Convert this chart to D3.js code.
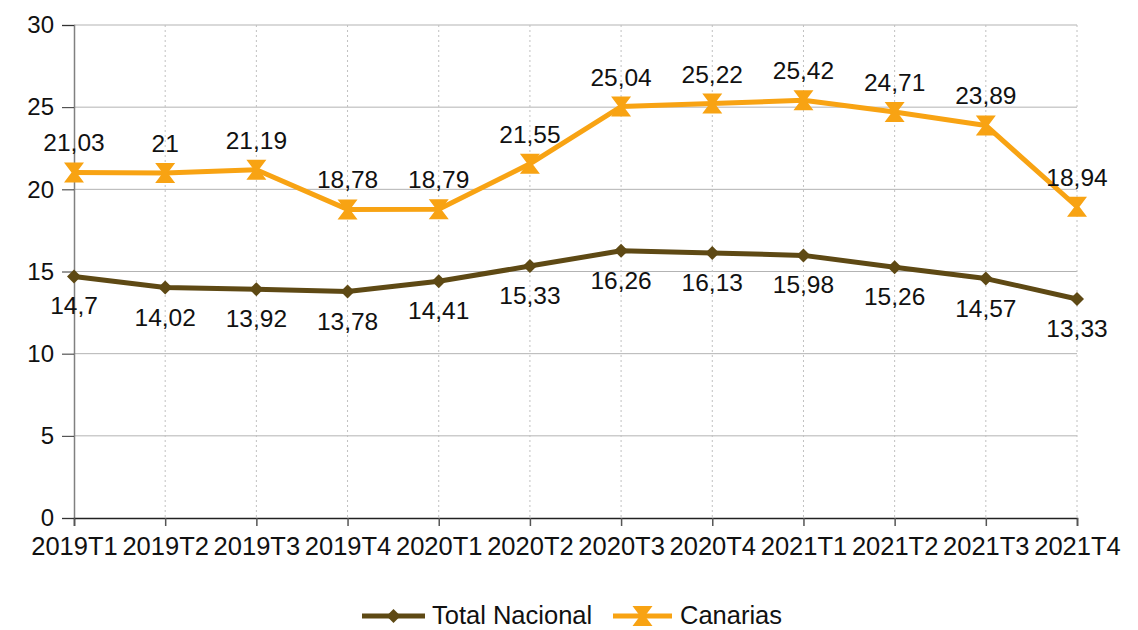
<!DOCTYPE html>
<html>
<head>
<meta charset="utf-8">
<script src="https://cdn.jsdelivr.net/npm/d3@7"></script>
<style>
  body { margin: 0; background: #fff; }
  svg { display: block; font-family: 'Liberation Sans', Arial, sans-serif; }
</style>
</head>
<body>
<figure style="margin:0"></figure>
<script>
const width = 1138
const height = 630
const margin = { left: 74, right: 61, top: 25, bottom: 112 }

const categories = ['2019T1', '2019T2', '2019T3', '2019T4', '2020T1', '2020T2',
  '2020T3', '2020T4', '2021T1', '2021T2', '2021T3', '2021T4']
const totalNacional = [14.7, 14.02, 13.92, 13.78, 14.41, 15.33, 16.26, 16.13, 15.98, 15.26, 14.57, 13.33]
const canarias = [21.03, 21, 21.19, 18.78, 18.79, 21.55, 25.04, 25.22, 25.42, 24.71, 23.89, 18.94]
const yTicks = [0, 5, 10, 15, 20, 25, 30]

const series = [
  { name: 'Total Nacional', values: totalNacional, color: '#5e4914', marker: 'diamond', labelPos: 'below' },
  { name: 'Canarias', values: canarias, color: '#f8a313', marker: 'hourglass', labelPos: 'above' }
]

const fmt = v => String(v).replace('.', ',')

const x = d3.scalePoint()
  .domain(categories)
  .range([margin.left, width - margin.right])

const y = d3.scaleLinear()
  .domain([0, 30])
  .range([height - margin.bottom, margin.top])

const svg = d3.select('figure').append('svg')
  .attr('width', width)
  .attr('height', height)

// horizontal grid
svg.append('g')
  .selectAll('line')
  .data(yTicks.filter(d => d > 0))
  .join('line')
  .attr('x1', margin.left)
  .attr('x2', width - margin.right)
  .attr('y1', d => y(d))
  .attr('y2', d => y(d))
  .attr('stroke', '#b3b3b3')
  .attr('stroke-width', 1)

// vertical dotted grid
svg.append('g')
  .selectAll('line')
  .data(categories.slice(1))
  .join('line')
  .attr('x1', d => x(d))
  .attr('x2', d => x(d))
  .attr('y1', y(30))
  .attr('y2', y(0))
  .attr('stroke', '#c0c0c0')
  .attr('stroke-width', 1)
  .attr('stroke-dasharray', '2,3')

// y axis
const yAxis = svg.append('g')
  .attr('transform', `translate(${margin.left},0)`)
  .call(d3.axisLeft(y).tickValues(yTicks).tickSize(12).tickPadding(8))
yAxis.select('.domain').attr('stroke', '#808080').attr('stroke-width', 1.5)
yAxis.selectAll('.tick line').attr('stroke', '#333')
yAxis.selectAll('text').attr('font-size', 24).attr('fill', '#111').attr('font-family', 'Liberation Sans')

// x axis
const xAxis = svg.append('g')
  .attr('transform', `translate(0,${y(0)})`)
  .call(d3.axisBottom(x).tickSizeOuter(0).tickSize(8).tickPadding(11))
xAxis.select('.domain').attr('stroke', '#222').attr('stroke-width', 1.5)
xAxis.selectAll('.tick line').attr('stroke', '#555').attr('stroke-width', 1.5)
xAxis.selectAll('text').attr('font-size', 25.5).attr('fill', '#111').attr('font-family', 'Liberation Sans')

const markerPath = {
  diamond: 'M0,-7L7,0L0,7L-7,0Z',
  hourglass: 'M-10,-10L10,-10L2.5,0L10,10L-10,10L-2.5,0Z'
}

const line = d3.line()
  .x((d, i) => x(categories[i]))
  .y(d => y(d))

series.forEach(s => {
  const g = svg.append('g')
  g.append('path')
    .datum(s.values)
    .attr('fill', 'none')
    .attr('stroke', s.color)
    .attr('stroke-width', 5)
    .attr('stroke-linejoin', 'round')
    .attr('d', line)

  g.selectAll('path.m')
    .data(s.values)
    .join('path')
    .attr('class', 'm')
    .attr('d', markerPath[s.marker])
    .attr('fill', s.color)
    .attr('transform', (d, i) => `translate(${x(categories[i])},${y(d)})`)

  g.selectAll('text')
    .data(s.values)
    .join('text')
    .attr('x', (d, i) => x(categories[i]))
    .attr('y', d => y(d) + (s.labelPos === 'above' ? -21 : 38))
    .attr('text-anchor', 'middle')
    .attr('font-size', 24.5)
    .attr('fill', '#111')
    .text(d => fmt(d))
})

// legend
const legend = svg.append('g').attr('transform', `translate(0,${616})`)
const legendItems = [
  { s: series[0], x0: 362, x1: 425, tx: 432 },
  { s: series[1], x0: 613, x1: 672, tx: 680 }
]
legendItems.forEach(l => {
  legend.append('line')
    .attr('x1', l.x0).attr('x2', l.x1)
    .attr('stroke', l.s.color).attr('stroke-width', 5)
  legend.append('path')
    .attr('d', markerPath[l.s.marker])
    .attr('fill', l.s.color)
    .attr('transform', `translate(${(l.x0 + l.x1) / 2},0)`)
  legend.append('text')
    .attr('x', l.tx)
    .attr('y', 8)
    .attr('font-size', 25.5)
    .attr('fill', '#111')
    .text(l.s.name)
})
</script>
</body>
</html>
